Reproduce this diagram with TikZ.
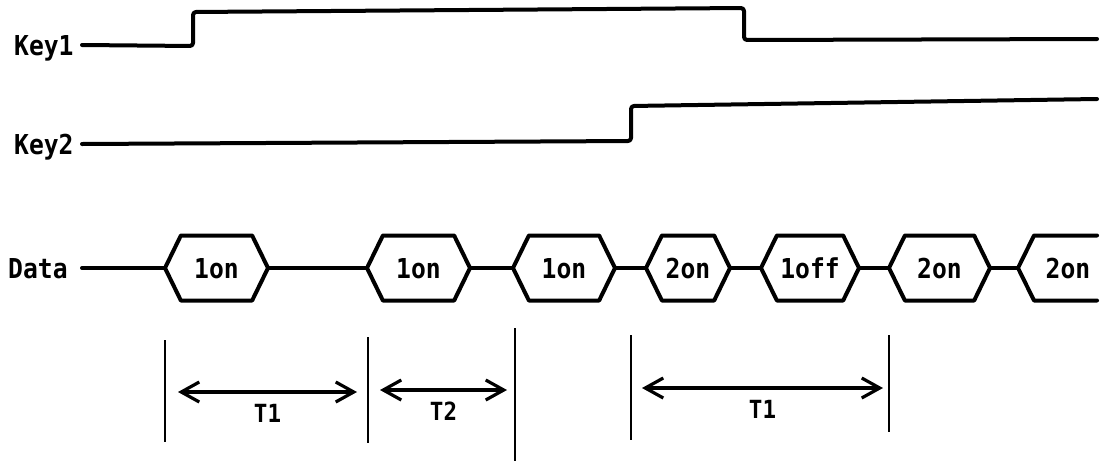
\documentclass[tikz,border=0pt]{standalone}
\usepackage{fontspec}
\newfontfamily\patfont[FakeStretch=0.9]{DejaVu Sans Mono}
\usepackage{tikz}
\usetikzlibrary{positioning,arrows.meta,shapes.symbols}

\begin{document}
\begin{tikzpicture}[
    x=0.5pt, y=-0.5pt,
    wave/.style={line width=2pt, line cap=round, line join=round},
    tag/.style={anchor=east, inner xsep=4pt, inner ysep=0pt, font=\patfont\bfseries\fontsize{13.7}{16}\selectfont, text height=10pt, text depth=0pt},
    hex/.style={signal, signal to=west and east, signal pointer angle=128, draw, wave, minimum height=32.5pt, inner sep=0pt, outer sep=0pt, font=\patfont\bfseries\fontsize{13.7}{16}\selectfont, text height=10pt, text depth=0pt},
    tick/.style={line width=1.2pt},
    span/.style={{Straight Barb[length=9pt,width=10pt]}-{Straight Barb[length=9pt,width=10pt]}, line width=1.6pt},
    tlabel/.style={font=\patfont\bfseries\fontsize{12.5}{14}\selectfont, text height=8.5pt, text depth=0pt, inner sep=0pt}
]
    \useasboundingbox (0,0) rectangle (1101,461);

    % Key lines
    \node[tag] (kone) at (82,45) {Key1};
    \node[tag] (ktwo) at (82,144) {Key2};
    \draw[wave, rounded corners=1.5pt] (kone.east) -- (193,46) -- (193,12) -- (744,8) -- (744,40) -- (1097,39);
    \draw[wave, rounded corners=1.5pt] (ktwo.east) -- (631,141) -- (631,106) -- (1097,99);

    % Data packets
    \node[tag, inner xsep=7pt] (data) at (82,268) {Data};
    \node[hex, minimum width=51.5pt] (h1) at (216.5,268) {1on};
    \node[hex, minimum width=51.5pt, right=49.5pt of h1] (h2) {1on};
    \node[hex, minimum width=51pt, right=21.5pt of h2] (h3) {1on};
    \node[hex, minimum width=42pt, right=15.5pt of h3] (h4) {2on};
    \node[hex, minimum width=49pt, right=15.5pt of h4] (h5) {1off};
    \node[hex, minimum width=50.5pt, right=15pt of h5] (h6) {2on};
    \coordinate[right=14pt of h6.east] (h7w);
    \node[tag, anchor=center, inner xsep=0pt] (h7) at (1068,268) {2on};
    \draw[wave] (1097,235.5) -- ([shift={(8pt,16.25pt)}]h7w) -- (h7w) -- ++(8pt,-16.25pt) -- (1097,300.5);

    \draw[wave] (data.east) -- (h1.west);
    \draw[wave] (h1.east) -- (h2.west);
    \draw[wave] (h2.east) -- (h3.west);
    \draw[wave] (h3.east) -- (h4.west);
    \draw[wave] (h4.east) -- (h5.west);
    \draw[wave] (h5.east) -- (h6.west);
    \draw[wave] (h6.east) -- (h7w);

    % Timing marks
    \draw[tick] (165,340) -- (165,442);
    \draw[tick] (368,337) -- (368,443);
    \draw[tick] (515,328) -- (515,461);
    \draw[tick] (631,335) -- (631,440);
    \draw[tick] (889,335) -- (889,432);

    \coordinate (a1) at (178,392);
    \coordinate (b1) at (357,392);
    \coordinate (a2) at (380,390);
    \coordinate (b2) at (507,390);
    \coordinate (a3) at (642,388);
    \coordinate (b3) at (883,388);
    \draw[span] (a1) -- node[tlabel, below=6pt] (t1) {T1} (b1);
    \draw[span] (a2) -- node[tlabel, below=6pt] (t2) {T2} (b2);
    \draw[span] (a3) -- node[tlabel, below=6pt] (t3) {T1} (b3);
\end{tikzpicture}
\end{document}
